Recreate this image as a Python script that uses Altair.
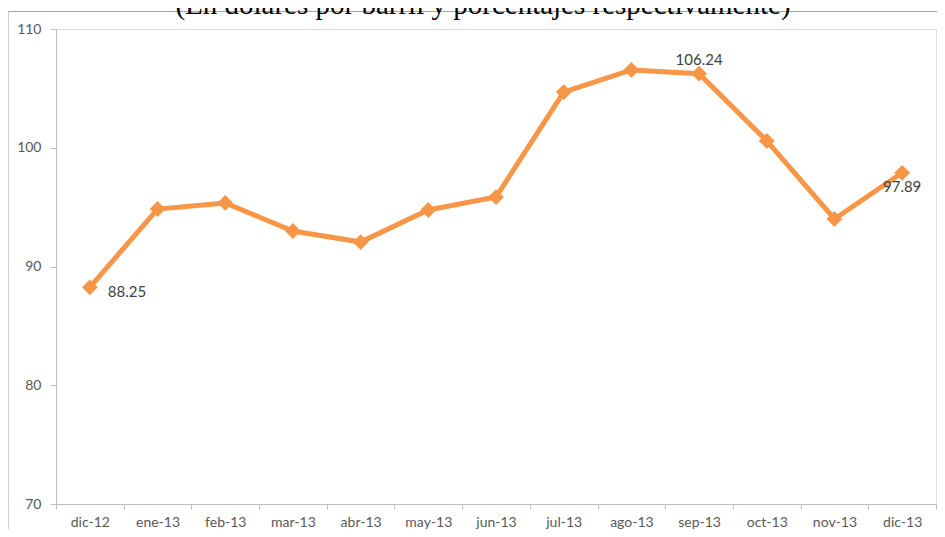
import altair as alt
import pandas as pd

months = ["dic-12", "ene-13", "feb-13", "mar-13", "abr-13", "may-13", "jun-13",
          "jul-13", "ago-13", "sep-13", "oct-13", "nov-13", "dic-13"]
values = [88.25, 94.84, 95.35, 92.99, 92.06, 94.76, 95.85,
          104.69, 106.55, 106.24, 100.57, 94.00, 97.89]
labeled = ["dic-12", "sep-13", "dic-13"]
y_ticks = [70, 80, 90, 100, 110]
title_text = "(En dólares por barril y porcentajes respectivamente)"

df = pd.DataFrame({"mes": months, "valor": values})
df["etiqueta"] = [f"{v:.2f}" if m in labeled else "" for m, v in zip(months, values)]

ORANGE = "#F79646"
AXIS_GRAY = "#BFBFBF"
LABEL_GRAY = "#595959"
FONT = "Lato"

x_enc = alt.X("mes:N", sort=months, title=None,
              scale=alt.Scale(type="band", paddingInner=0, paddingOuter=0),
              axis=alt.Axis(tickBand="extent", labelAngle=0, domainColor=AXIS_GRAY,
                            tickColor=AXIS_GRAY, tickSize=5, labelColor=LABEL_GRAY,
                            labelFontSize=14, labelFont=FONT, labelPadding=6,
                            domainWidth=1, tickWidth=1))
y_enc = alt.Y("valor:Q", title=None,
              scale=alt.Scale(domain=[70, 110], nice=False, zero=False),
              axis=alt.Axis(values=y_ticks, grid=False, domainColor=AXIS_GRAY,
                            tickColor=AXIS_GRAY, tickSize=6, labelColor=LABEL_GRAY,
                            labelFontSize=14, labelFont=FONT, labelPadding=9,
                            domainWidth=1, tickWidth=1))

base = alt.Chart(df)

line = base.mark_line(color=ORANGE, strokeWidth=5).encode(x=x_enc, y=y_enc)
pts = base.mark_point(shape="diamond", filled=True, size=250, color=ORANGE,
                      opacity=1).encode(x=x_enc, y=y_enc)

def lab(month, **kw):
    return base.transform_filter(alt.datum.mes == month).mark_text(
        font=FONT, fontSize=15, color="#404040", **kw
    ).encode(x=x_enc, y=y_enc, text="etiqueta:N")

lab1 = lab("dic-12", align="left", baseline="middle", dx=18, dy=5)
lab2 = lab("sep-13", align="center", baseline="middle", dy=-14)
lab3 = lab("dic-13", align="center", baseline="middle", dy=14)

frame_df = pd.DataFrame({"t": [title_text]})
frame = alt.Chart(frame_df)
left_border = frame.mark_rule(color="#A6A6A6", strokeWidth=1).encode(
    x=alt.value(-48), y=alt.value(-17.5), y2=alt.value(520))
top_border = frame.mark_rule(color="#A6A6A6", strokeWidth=1).encode(
    x=alt.value(-48), x2=alt.value(900), y=alt.value(-17.5))
title = frame.mark_text(font="Liberation Serif", fontSize=29, color="#000000",
                        align="center", baseline="alphabetic").encode(
    x=alt.value(427), y=alt.value(-15), text="t:N")

chart = alt.layer(left_border, top_border, title, line, pts, lab1, lab2, lab3).properties(
    width=880, height=475,
    autosize=alt.AutoSizeParams(type="none"),
    padding={"left": 48, "top": 21, "right": 1, "bottom": 25},
).configure_view(stroke=None).configure(background="white")

chart.save("out.html", embed_options={"renderer": "svg", "actions": False})
